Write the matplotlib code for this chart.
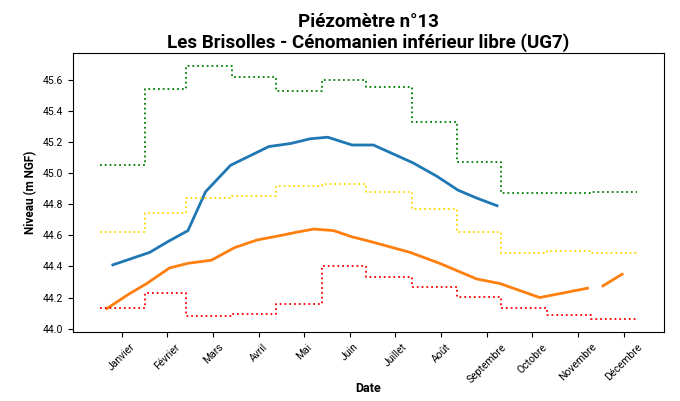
import numpy as np
import matplotlib
matplotlib.use("Agg")
import matplotlib.pyplot as plt

plt.rcParams['font.family'] = ['Roboto', 'DejaVu Sans']

months = ['Janvier', 'Février', 'Mars', 'Avril', 'Mai', 'Juin', 'Juillet',
          'Août', 'Septembre', 'Octobre', 'Novembre', 'Décembre']
month_start = [0, 31, 59, 90, 120, 151, 181, 212, 243, 273, 304, 334, 365]
tick_days = [15, 46, 77, 108, 139, 170, 201, 232, 263, 294, 325, 356]

# monthly envelopes (last value repeated to close the step)
niv_max = [45.05, 45.54, 45.69, 45.62, 45.53, 45.60, 45.55, 45.33, 45.07, 44.87, 44.87, 44.88, 44.88]
niv_moy = [44.62, 44.74, 44.84, 44.85, 44.915, 44.93, 44.88, 44.77, 44.62, 44.485, 44.50, 44.485, 44.485]
niv_min = [44.13, 44.23, 44.08, 44.095, 44.16, 44.40, 44.33, 44.265, 44.205, 44.13, 44.09, 44.06, 44.06]

# year 1 (blue)
jours_a = [9, 34, 46.5, 60, 72, 89, 115, 130, 143, 155, 171.5, 186, 213, 229, 243.5, 256, 270]
niv_a = [44.41, 44.49, 44.56, 44.63, 44.88, 45.05, 45.17, 45.19, 45.22, 45.23, 45.18, 45.18,
         45.065, 44.98, 44.89, 44.84, 44.79]

# year 2 (orange), gap in November
jours_b = [5, 19.5, 32, 47.5, 60, 76, 91.5, 107, 121, 134, 145.5, 159, 171.5, 184, 211,
           231, 256, 272, 299, 331.5, 337, 342, 355]
niv_b = [44.13, 44.22, 44.29, 44.39, 44.42, 44.44, 44.52, 44.57, 44.595, 44.62, 44.64,
         44.63, 44.59, 44.56, 44.49, 44.42, 44.32, 44.29, 44.20, 44.26, np.nan, 44.275, 44.35]

fig = plt.figure(figsize=(6.8, 4.01), dpi=100)
ax = fig.add_axes([0.107, 0.172, 0.869, 0.696])

ax.plot(jours_a, niv_a, color='#1f77b4', lw=2)
ax.plot(jours_b, niv_b, color='#ff7f0e', lw=2)
ax.plot(month_start, niv_max, color='green', ls=':', lw=1.3, drawstyle='steps-post')
ax.plot(month_start, niv_moy, color='gold', ls=':', lw=1.3, drawstyle='steps-post')
ax.plot(month_start, niv_min, color='red', ls=':', lw=1.3, drawstyle='steps-post')

ax.set_xticks(tick_days)
ax.set_xticklabels(months, rotation=45, fontsize=7.5)
ax.tick_params(axis='y', labelsize=7.5)
ax.set_xlabel('Date', fontweight='bold', fontsize=9, labelpad=-2)
ax.set_ylabel('Niveau (m NGF)', fontweight='bold', fontsize=8.5)
ax.set_title('Piézomètre n°13\nLes Brisolles - Cénomanien inférieur libre (UG7)',
             fontweight='bold', fontsize=13.5, pad=4, linespacing=1.1)

fig.savefig('out.png', dpi=100)
